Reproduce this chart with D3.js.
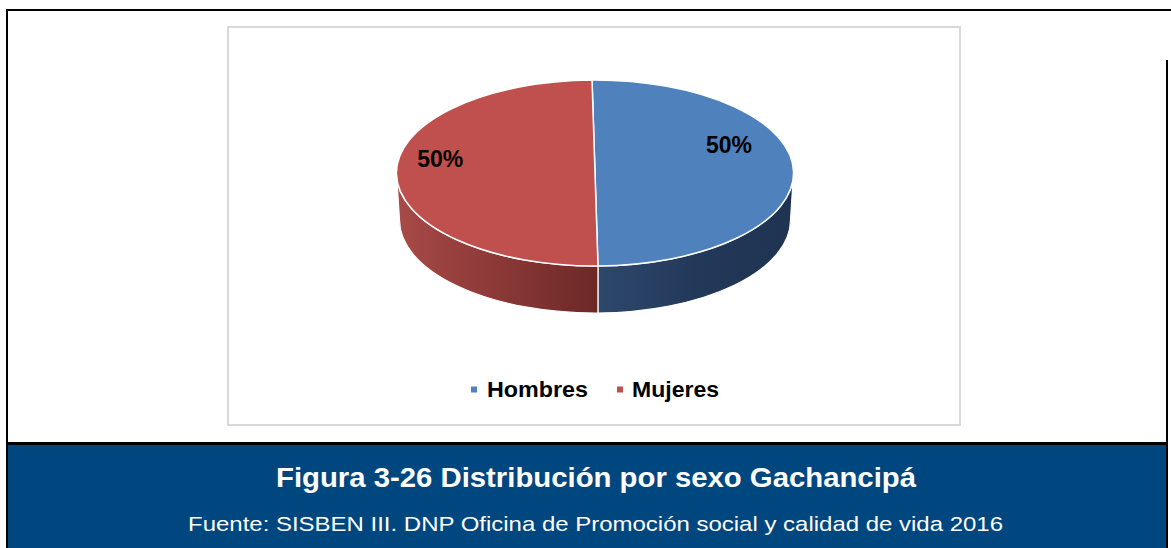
<!DOCTYPE html>
<html>
<head>
<meta charset="utf-8">
<script src="https://cdn.jsdelivr.net/npm/d3@7"></script>
<style>
  html, body { margin: 0; padding: 0; background: #fff; }
  svg { display: block; font-family: Arial, "Liberation Sans", sans-serif; }
</style>
</head>
<body>
<div id="chart"></div>
<script>
// Pie data
const categories = ["Hombres", "Mujeres"];
const values = [50, 50];
const valueLabels = ["50%", "50%"];

const titleText = "Figura 3-26 Distribución por sexo Gachancipá";
const sourceText = "Fuente: SISBEN III. DNP Oficina de Promoción social y calidad de vida 2016";

const W = 1171, H = 548;

// colours per slice: top face, side gradient stops
const topColor = d3.scaleOrdinal().domain(categories).range(["#4f81bd", "#c0504d"]);
const sideStops = {
    Hombres: ["#2d486d", "#23395a", "#1f3351"],
    Mujeres: ["#a84a48", "#8b3937", "#6c2827"]
};

// 3D ellipse geometry
const cx = 595, cy = 173, rx = 198.5, ry = 93, depth = 47;
const rxBottom = rx - 3, ryBottom = ry;
const tilt = -0.015; // small rotation of the first slice

// label placement, in units of the ellipse radii
const labelSpot = { Hombres: [0.675, -0.30], Mujeres: [-0.78, -0.15] };

const svg = d3.select("#chart").append("svg")
    .attr("width", W)
    .attr("height", H);

// page frame
svg.append("rect").attr("x", 6).attr("y", 9).attr("width", W - 6).attr("height", 2).attr("fill", "#000");
svg.append("rect").attr("x", 6).attr("y", 9).attr("width", 2).attr("height", H - 9).attr("fill", "#000");
svg.append("rect").attr("x", 1166).attr("y", 60).attr("width", 2).attr("height", H - 60).attr("fill", "#000");
svg.append("rect").attr("x", 8).attr("y", 445).attr("width", 1158).attr("height", H - 445).attr("fill", "#00467f");
svg.append("rect").attr("x", 6).attr("y", 442).attr("width", 1162).attr("height", 3).attr("fill", "#000");

// chart area box
svg.append("rect")
    .attr("x", 228).attr("y", 27)
    .attr("width", 732).attr("height", 398)
    .attr("fill", "#fff")
    .attr("stroke", "#d9d9d9")
    .attr("stroke-width", 2);

const pie = d3.pie().sort(null)
    .startAngle(tilt)
    .endAngle(2 * Math.PI + tilt);
const slices = pie(values).map((d, i) => Object.assign(d, { name: categories[i], label: valueLabels[i] }));

function pt(a, rX, rY, yC) {
    return [cx + rX * Math.sin(a), yC - rY * Math.cos(a)];
}

// gradients for the sides
const defs = svg.append("defs");
slices.forEach(s => {
    const a0 = Math.max(s.startAngle, Math.PI / 2);
    const a1 = Math.min(s.endAngle, 3 * Math.PI / 2);
    const x0 = pt(a0, rx, ry, cy)[0], x1 = pt(a1, rx, ry, cy)[0];
    const stops = sideStops[s.name];
    const g = defs.append("linearGradient")
        .attr("id", "side-" + s.name)
        .attr("gradientUnits", "userSpaceOnUse")
        .attr("x1", Math.min(x0, x1))
        .attr("x2", Math.max(x0, x1))
        .attr("y1", 0).attr("y2", 0);
    stops.forEach((c, i) => {
        g.append("stop").attr("offset", i / (stops.length - 1)).attr("stop-color", c);
    });
});

const pieG = svg.append("g");

// visible side walls (front half only)
slices.forEach(s => {
    const a0 = Math.max(s.startAngle, Math.PI / 2);
    const a1 = Math.min(s.endAngle, 3 * Math.PI / 2);
    if (a1 <= a0) return;
    const t0 = pt(a0, rx, ry, cy), t1 = pt(a1, rx, ry, cy);
    const b0 = pt(a0, rxBottom, ryBottom, cy + depth), b1 = pt(a1, rxBottom, ryBottom, cy + depth);
    const large = (a1 - a0) > Math.PI ? 1 : 0;
    const p = `M${t0} A${rx},${ry} 0 ${large} 1 ${t1} L${b1} A${rxBottom},${ryBottom} 0 ${large} 0 ${b0} Z`;
    pieG.append("path")
        .attr("d", p)
        .attr("fill", `url(#side-${s.name})`)
        .attr("stroke", "#fff")
        .attr("stroke-width", 1.2)
        .attr("stroke-linejoin", "round");
});

// top faces
slices.forEach(s => {
    const p0 = pt(s.startAngle, rx, ry, cy), p1 = pt(s.endAngle, rx, ry, cy);
    const large = (s.endAngle - s.startAngle) > Math.PI ? 1 : 0;
    pieG.append("path")
        .attr("d", `M${cx},${cy} L${p0} A${rx},${ry} 0 ${large} 1 ${p1} Z`)
        .attr("fill", topColor(s.name))
        .attr("stroke", "#fff")
        .attr("stroke-width", 1.5)
        .attr("stroke-linejoin", "round");
});

// data labels
slices.forEach(s => {
    const spot = labelSpot[s.name];
    pieG.append("text")
        .attr("x", cx + spot[0] * rx)
        .attr("y", cy + spot[1] * ry)
        .attr("dy", "0.35em")
        .attr("text-anchor", "middle")
        .attr("font-size", 23)
        .attr("font-weight", "bold")
        .attr("fill", "#000")
        .text(s.label);
});

// legend
const legendX = d3.scalePoint().domain(categories).range([471, 617]);
const legendLen = { Hombres: 101, Mujeres: 87 };
categories.forEach(c => {
    const g = svg.append("g").attr("transform", `translate(${legendX(c)},386.5)`);
    g.append("rect")
        .attr("width", 6).attr("height", 6)
        .attr("fill", topColor(c));
    g.append("text")
        .attr("x", c === "Hombres" ? 16 : 15)
        .attr("y", 10.5)
        .attr("font-size", 22)
        .attr("font-weight", "bold")
        .attr("fill", "#000")
        .attr("textLength", legendLen[c])
        .attr("lengthAdjust", "spacingAndGlyphs")
        .text(c);
});

// caption
svg.append("text")
    .attr("x", 596).attr("y", 487)
    .attr("text-anchor", "middle")
    .attr("font-size", 28)
    .attr("font-weight", "bold")
    .attr("fill", "#fff")
    .attr("textLength", 640)
    .attr("lengthAdjust", "spacingAndGlyphs")
    .text(titleText);

svg.append("text")
    .attr("x", 595.5).attr("y", 531)
    .attr("text-anchor", "middle")
    .attr("font-size", 21)
    .attr("fill", "#fff")
    .attr("textLength", 815)
    .attr("lengthAdjust", "spacingAndGlyphs")
    .text(sourceText);
</script>
</body>
</html>
